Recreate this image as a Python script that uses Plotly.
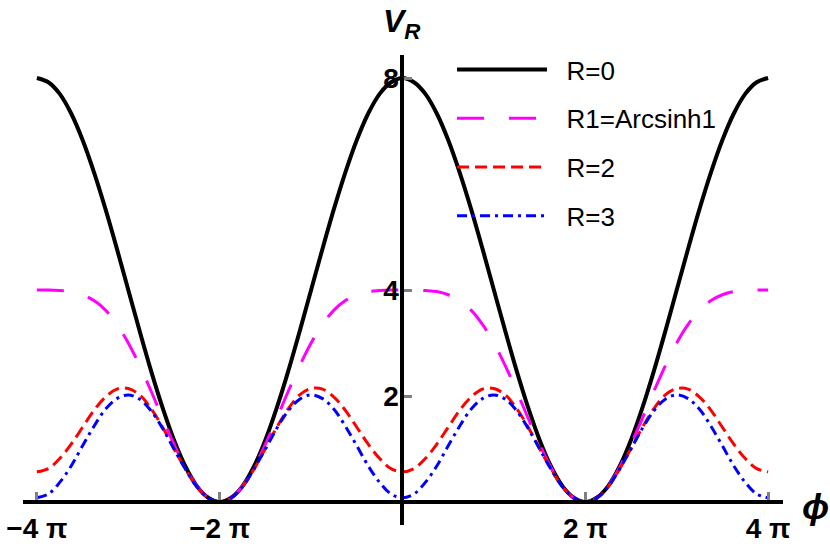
import numpy as np
import plotly.graph_objects as go

# phi sampled every pi/8 from -4pi to 4pi
phi = [k * np.pi / 8 for k in range(-32, 33)]

# V_R values
v_r0 = [8.00, 7.92, 7.70, 7.33, 6.83, 6.22, 5.53, 4.78, 4.00, 3.22, 2.47, 1.78, 1.17, 0.67, 0.30, 0.08, 0.00,
        0.08, 0.30, 0.67, 1.17, 1.78, 2.47, 3.22, 4.00, 4.78, 5.53, 6.22, 6.83, 7.33, 7.70, 7.92, 8.00,
        7.92, 7.70, 7.33, 6.83, 6.22, 5.53, 4.78, 4.00, 3.22, 2.47, 1.78, 1.17, 0.67, 0.30, 0.08, 0.00,
        0.08, 0.30, 0.67, 1.17, 1.78, 2.47, 3.22, 4.00, 4.78, 5.53, 6.22, 6.83, 7.33, 7.70, 7.92, 8.00]

v_r1 = [4.00, 4.00, 3.99, 3.97, 3.91, 3.80, 3.62, 3.35, 3.00, 2.57, 2.09, 1.58, 1.09, 0.65, 0.30, 0.08, 0.00,
        0.08, 0.30, 0.65, 1.09, 1.58, 2.09, 2.57, 3.00, 3.35, 3.62, 3.80, 3.91, 3.97, 3.99, 4.00, 4.00,
        4.00, 3.99, 3.97, 3.91, 3.80, 3.62, 3.35, 3.00, 2.57, 2.09, 1.58, 1.09, 0.65, 0.30, 0.08, 0.00,
        0.08, 0.30, 0.65, 1.09, 1.58, 2.09, 2.57, 3.00, 3.35, 3.62, 3.80, 3.91, 3.97, 3.99, 4.00, 4.00]

v_r2 = [0.57, 0.63, 0.82, 1.09, 1.41, 1.73, 1.98, 2.13, 2.14, 2.02, 1.76, 1.41, 1.01, 0.62, 0.29, 0.08, 0.00,
        0.08, 0.29, 0.62, 1.01, 1.41, 1.76, 2.02, 2.14, 2.13, 1.98, 1.73, 1.41, 1.09, 0.82, 0.63, 0.57,
        0.63, 0.82, 1.09, 1.41, 1.73, 1.98, 2.13, 2.14, 2.02, 1.76, 1.41, 1.01, 0.62, 0.29, 0.08, 0.00,
        0.08, 0.29, 0.62, 1.01, 1.41, 1.76, 2.02, 2.14, 2.13, 1.98, 1.73, 1.41, 1.09, 0.82, 0.63, 0.57]

v_r3 = [0.08, 0.15, 0.37, 0.68, 1.06, 1.43, 1.75, 1.95, 2.02, 1.94, 1.72, 1.39, 1.00, 0.62, 0.29, 0.08, 0.00,
        0.08, 0.29, 0.62, 1.00, 1.39, 1.72, 1.94, 2.02, 1.95, 1.75, 1.43, 1.06, 0.68, 0.37, 0.15, 0.08,
        0.15, 0.37, 0.68, 1.06, 1.43, 1.75, 1.95, 2.02, 1.94, 1.72, 1.39, 1.00, 0.62, 0.29, 0.08, 0.00,
        0.08, 0.29, 0.62, 1.00, 1.39, 1.72, 1.94, 2.02, 1.95, 1.75, 1.43, 1.06, 0.68, 0.37, 0.15, 0.08]

names = ["R=0", "R1=Arcsinh1", "R=2", "R=3"]
x_tickvals = [-4 * np.pi, -2 * np.pi, 2 * np.pi, 4 * np.pi]
x_ticktext = ["<b>\u22124 \u03c0</b>", "<b>\u22122 \u03c0</b>", "<b>2 \u03c0</b>", "<b>4 \u03c0</b>"]
y_tickvals = [2, 4, 8]

x_range = [-4.152 * np.pi, 4.163 * np.pi]
y_range = [-0.434, 8.434]

fig = go.Figure()

styles = [
    dict(color="black", width=4, dash="solid"),
    dict(color="#ff00ff", width=3, dash="27px,25px"),
    dict(color="#ff0000", width=3, dash="12px,6px"),
    dict(color="#0000ff", width=3, dash="10px,5px,3px,5px"),
]

for name, vals, st in zip(names, [v_r0, v_r1, v_r2, v_r3], styles):
    fig.add_trace(go.Scatter(x=phi, y=vals, mode="lines",
                             name="\u00a0\u00a0" + name,
                             legendgroup=name,
                             line=dict(color=st["color"], width=st["width"],
                                       dash=st["dash"], shape="spline")))

x_pos = (0 - x_range[0]) / (x_range[1] - x_range[0])
y_pos = (0 - y_range[0]) / (y_range[1] - y_range[0])

fig.update_layout(
    width=830, height=554,
    margin=dict(l=23, r=47, t=55, b=29),
    plot_bgcolor="white", paper_bgcolor="white",
    font=dict(family="Liberation Sans, Arial, sans-serif", size=20, color="black"),
    showlegend=True,
    legend=dict(x=0.5645, y=1.019, xanchor="left", yanchor="top",
                bgcolor="rgba(0,0,0,0)", font=dict(size=26),
                traceorder="grouped", tracegroupgap=12, itemwidth=90),
    xaxis=dict(range=x_range, showgrid=False, zeroline=False, automargin=False,
               showline=True, linecolor="black", linewidth=4,
               anchor="free", position=y_pos,
               tickvals=x_tickvals, ticktext=x_ticktext,
               ticks="inside", ticklen=8, tickwidth=3, tickcolor="#808080",
               ticklabeloverflow="allow", tickfont=dict(size=28)),
    yaxis=dict(range=y_range, showgrid=False, zeroline=False, automargin=False,
               showline=True, linecolor="black", linewidth=4,
               anchor="free", position=x_pos,
               tickvals=y_tickvals, ticktext=["<b>%d</b>" % v for v in y_tickvals],
               ticks="inside", ticklen=8, tickwidth=3, tickcolor="#808080",
               ticklabelstandoff=-4,
               ticklabeloverflow="allow", tickfont=dict(size=28)),
)

# axis labels
fig.add_annotation(x=0.4987, y=1.066, xref="paper", yref="paper", xanchor="center", yanchor="middle",
                   text="<b><i>V<sub>R</sub></i></b>", showarrow=False, font=dict(size=32))
fig.add_annotation(x=1.0434, y=-0.09, xref="paper", yref="y", xanchor="center", yanchor="middle",
                   text="<b><i>\u03d5</i></b>", showarrow=False, font=dict(size=36))

# drop the default 8px body margin so the figure fills the window
fig.write_html("out.html", config={"displayModeBar": False},
               post_script="document.body.style.margin='0';")
